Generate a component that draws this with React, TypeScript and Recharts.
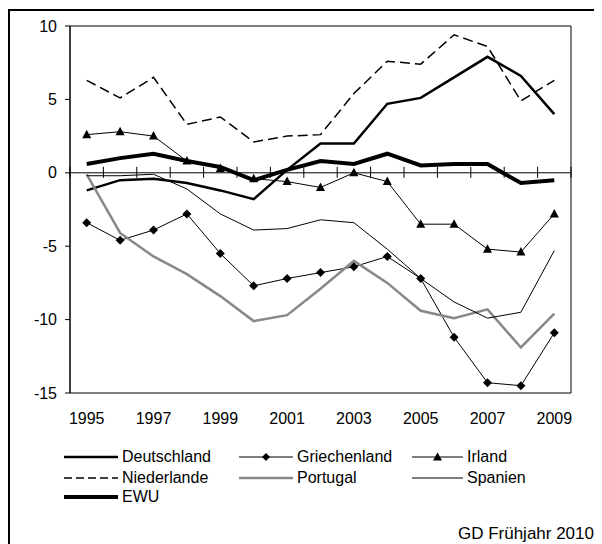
import { LineChart, Line, XAxis, YAxis, ReferenceLine, ReferenceArea, Legend } from 'recharts';

const years = ['1995', '1996', '1997', '1998', '1999', '2000', '2001', '2002', '2003', '2004', '2005', '2006', '2007', '2008', '2009'];

const deutschland = [-1.2, -0.5, -0.4, -0.7, -1.2, -1.8, 0.2, 2.0, 2.0, 4.7, 5.1, 6.5, 7.9, 6.6, 4.0];
const griechenland = [-3.4, -4.6, -3.9, -2.8, -5.5, -7.7, -7.2, -6.8, -6.4, -5.7, -7.2, -11.2, -14.3, -14.5, -10.9];
const irland = [2.6, 2.8, 2.5, 0.8, 0.3, -0.4, -0.6, -1.0, 0.0, -0.6, -3.5, -3.5, -5.2, -5.4, -2.8];
const niederlande = [6.3, 5.1, 6.5, 3.3, 3.8, 2.1, 2.5, 2.6, 5.4, 7.6, 7.4, 9.4, 8.6, 4.9, 6.3];
const portugal = [-0.1, -4.1, -5.7, -6.9, -8.4, -10.1, -9.7, -7.9, -6.0, -7.5, -9.4, -9.9, -9.3, -11.9, -9.6];
const spanien = [-0.2, -0.2, -0.1, -1.1, -2.8, -3.9, -3.8, -3.2, -3.4, -5.2, -7.2, -8.8, -9.9, -9.5, -5.3];
const ewu = [0.6, 1.0, 1.3, 0.8, 0.4, -0.5, 0.2, 0.8, 0.6, 1.3, 0.5, 0.6, 0.6, -0.7, -0.5];

const yTicks = [-15, -10, -5, 0, 5, 10];

const data = years.map((year, i) => ({
  year,
  deutschland: deutschland[i],
  griechenland: griechenland[i],
  irland: irland[i],
  niederlande: niederlande[i],
  portugal: portugal[i],
  spanien: spanien[i],
  ewu: ewu[i],
}));

const FONT = 'Arial, "Liberation Sans", sans-serif';

const diamondDot = (p: any) => {
  const { cx, cy, index } = p;
  if (cx == null || cy == null) return <g key={`gd-${index}`} />;
  return <path key={`gd-${index}`} d={`M${cx},${cy - 4.5}L${cx + 4.5},${cy}L${cx},${cy + 4.5}L${cx - 4.5},${cy}Z`} fill="#000" />;
};

const triangleDot = (p: any) => {
  const { cx, cy, index } = p;
  if (cx == null || cy == null) return <g key={`ir-${index}`} />;
  return <path key={`ir-${index}`} d={`M${cx},${cy - 5}L${cx + 4.5},${cy + 3.5}L${cx - 4.5},${cy + 3.5}Z`} fill="#000" />;
};

// series styling
const series = [
  { key: 'deutschland', name: 'Deutschland', color: '#000', width: 2.5, dash: undefined, legendDash: undefined, marker: null },
  { key: 'griechenland', name: 'Griechenland', color: '#000', width: 1, dash: undefined, legendDash: undefined, marker: 'diamond' },
  { key: 'irland', name: 'Irland', color: '#000', width: 1, dash: undefined, legendDash: undefined, marker: 'triangle' },
  { key: 'niederlande', name: 'Niederlande', color: '#000', width: 1.5, dash: '10 5', legendDash: '8 4', marker: null },
  { key: 'portugal', name: 'Portugal', color: '#888', width: 2.5, dash: undefined, legendDash: undefined, marker: null },
  { key: 'spanien', name: 'Spanien', color: '#000', width: 1, dash: undefined, legendDash: undefined, marker: null },
  { key: 'ewu', name: 'EWU', color: '#000', width: 4, dash: undefined, legendDash: undefined, marker: null },
];

// zero line with the category tick marks crossing it
const ZeroAxis = (p: any) => {
  const { x1, y1, x2 } = p;
  const n = years.length;
  const step = (x2 - x1) / n;
  return (
    <g>
      <line x1={x1} y1={y1} x2={x2} y2={y1} stroke="#000" strokeWidth={1} />
      {Array.from({ length: n + 1 }, (_, i) => (
        <line key={i} x1={x1 + step * i} y1={y1 - 6} x2={x1 + step * i} y2={y1 + 5} stroke="#000" strokeWidth={1} />
      ))}
    </g>
  );
};

const legendCols = [0, 175, 348];
const legendRows = [17, 38, 57];

const LegendContent = () => (
  <div style={{ position: 'relative', width: 480, height: 80, fontFamily: FONT, fontSize: 16, color: '#000' }}>
    {series.map((s, i) => {
      const col = i % 3;
      const row = Math.floor(i / 3);
      const lw = col === 2 ? 51 : 54;
      return (
        <div key={s.key} style={{ position: 'absolute', left: legendCols[col], top: legendRows[row] - 10, height: 20, display: 'flex', alignItems: 'center', whiteSpace: 'nowrap' }}>
          <svg width={lw} height={12} style={{ display: 'block' }}>
            <line x1={0} y1={6} x2={lw} y2={6} stroke={s.color} strokeWidth={s.width} strokeDasharray={s.legendDash} />
            {s.marker === 'diamond' && <path d={`M${lw / 2},2L${lw / 2 + 4},6L${lw / 2},10L${lw / 2 - 4},6Z`} fill="#000" />}
            {s.marker === 'triangle' && <path d={`M${lw / 2},1.5L${lw / 2 + 4.5},9.5L${lw / 2 - 4.5},9.5Z`} fill="#000" />}
          </svg>
          <span style={{ marginLeft: 4, lineHeight: '20px' }}>{s.name}</span>
        </div>
      );
    })}
  </div>
);

export default function App() {
  return (
    <div
      style={{
        position: 'relative',
        width: 594,
        height: 536,
        marginTop: 1,
        boxSizing: 'border-box',
        borderTop: '2px solid #000',
        borderLeft: '2px solid #000',
        background: '#fff',
      }}
    >
      <style>{'html { overflow: hidden; }'}</style>
      <LineChart width={592} height={534} data={data} margin={{ top: 15, right: 31, left: 0, bottom: 42 }}>
        <ReferenceArea y1={-15} y2={10} fill="none" stroke="#000" strokeWidth={1} ifOverflow="visible" />
        <XAxis
          dataKey="year"
          scale="band"
          interval={1}
          tickLine={false}
          axisLine={false}
          tickSize={0}
          tickMargin={20}
          height={30}
          tick={{ fontSize: 16, fill: '#000', fontFamily: FONT }}
        />
        <YAxis
          type="number"
          domain={[-15, 10]}
          ticks={yTicks}
          width={60}
          tickSize={5}
          tickMargin={8}
          axisLine={{ stroke: '#000' }}
          tickLine={{ stroke: '#000' }}
          tick={{ fontSize: 16, fill: '#000', fontFamily: FONT }}
        />
        <ReferenceLine y={0} shape={ZeroAxis} />
        {series.map((s) => (
          <Line
            key={s.key}
            type="linear"
            dataKey={s.key}
            name={s.name}
            stroke={s.color}
            strokeWidth={s.width}
            strokeDasharray={s.dash}
            dot={s.marker === 'diamond' ? diamondDot : s.marker === 'triangle' ? triangleDot : false}
            activeDot={false}
            isAnimationActive={false}
          />
        ))}
        <Legend
          verticalAlign="bottom"
          content={<LegendContent />}
          wrapperStyle={{ left: 54, top: 429, bottom: 'auto', width: 480, height: 80 }}
        />
      </LineChart>
      <div
        style={{
          position: 'absolute',
          right: 8,
          top: 514,
          fontFamily: FONT,
          fontSize: 17,
          lineHeight: '17px',
          color: '#000',
          whiteSpace: 'nowrap',
        }}
      >
        GD Frühjahr 2010
      </div>
    </div>
  );
}
